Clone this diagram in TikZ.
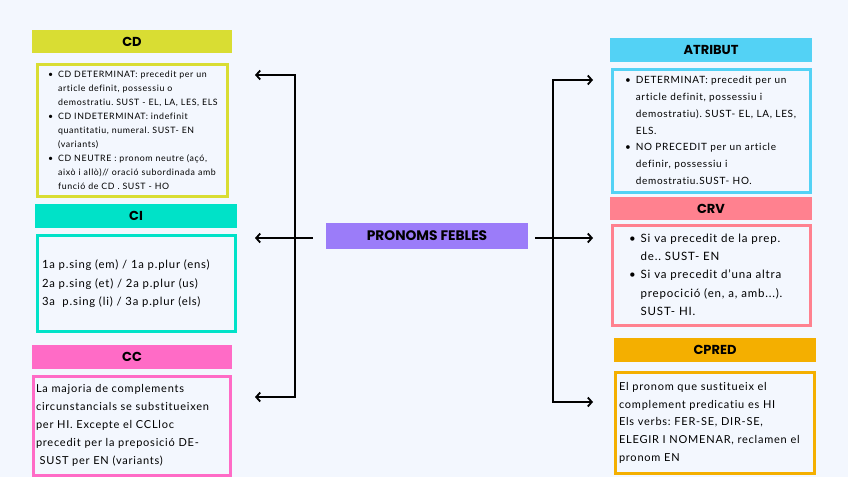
\documentclass[tikz,border=0pt]{standalone}
\usepackage{fontspec}
\setmainfont{Lato}[LetterSpace=7, Ligatures=NoCommon]
\newfontfamily\headfont{Poppins}
\usetikzlibrary{arrows.meta,positioning}
\definecolor{pfbg}{RGB}{243,247,254}
\definecolor{pfyellow}{RGB}{217,221,51}
\definecolor{pfturq}{RGB}{0,226,200}
\definecolor{pfpink}{RGB}{255,107,198}
\definecolor{pfcyan}{RGB}{83,210,245}
\definecolor{pfsalmon}{RGB}{255,129,143}
\definecolor{pforange}{RGB}{244,175,0}
\definecolor{pfpurple}{RGB}{155,124,249}
\frenchspacing

\begin{document}
\begin{tikzpicture}[
  x=1pt, y=-1pt,
  hdr/.style={minimum width=201pt, minimum height=23.5pt, inner sep=0pt,
              font=\headfont\bfseries\fontsize{13}{14}\selectfont},
  body/.style={draw=#1, line width=3pt, fill=pfbg, align=left, inner ysep=0pt},
  arr/.style={-{Straight Barb[length=4pt,width=9pt]}, line width=1.8pt, black},
  brk/.style={{Straight Barb[length=4pt,width=9pt]}-{Straight Barb[length=4pt,width=9pt]},
              line width=1.8pt, black}
]
\fill[pfbg] (0,0) rectangle (848,477);
% ---- centre ----
\node[fill=pfpurple, minimum width=202pt, minimum height=26pt, inner sep=0pt,
      font=\headfont\bfseries\fontsize{13.8}{16}\selectfont] (pf) at (427,236) {PRONOMS FEBLES};
% ---- left column: CD, CI, CC ----
\node[hdr, fill=pfyellow, minimum width=200pt] (cd) at (132,41.5) {CD};
\node[body=pfyellow, below=9.5pt of cd, xshift=0.5pt, text width=169pt, inner xsep=10.5pt,
      minimum height=132pt, font=\fontsize{8.8}{14}\selectfont] (cdtxt)
  {\begin{tabular}{@{}l@{\hspace{5pt}}l@{}}
   \textbullet & CD DETERMINAT: precedit per un\\
               & article definit, possessiu o\\
               & demostratiu. SUST - EL, LA, LES, ELS\\
   \textbullet & CD INDETERMINAT: indefinit\\
               & quantitatiu, numeral. SUST- EN\\
               & (variants)\\
   \textbullet & CD NEUTRE : pronom neutre (açó,\\
               & això i allò)// oració subordinada amb\\
               & funció de CD . SUST - HO
   \end{tabular}};
\node[hdr, fill=pfturq, minimum width=202pt] (ci) at (136,216) {CI};
\node[body=pfturq, below=6.5pt of ci, xshift=0.5pt, text width=189pt, inner xsep=4.5pt,
      minimum height=96pt, font=\fontsize{11.3}{18.5}\selectfont] (citxt)
  {1a p.sing (em) / 1a p.plur (ens)\\
   2a p.sing (et) / 2a p.plur (us)\\
   3a\ \ p.sing (li) / 3a p.plur (els)};
\node[hdr, fill=pfpink, minimum width=200pt, minimum height=24pt] (cc) at (132,357) {CC};
\node[body=pfpink, below=5.5pt of cc, text width=192pt, inner xsep=2.5pt,
      minimum height=99pt, font=\fontsize{11}{18}\selectfont] (cctxt)
  {La majoria de complements\\
   circunstancials se substitueixen\\
   per HI. Excepte el CCLloc\\
   precedit per la preposició DE-\\
   \ SUST per EN (variants)};
% ---- right column: ATRIBUT, CRV, CPRED ----
\node[hdr, fill=pfcyan, minimum width=202pt, minimum height=24pt] (atr) at (711,50) {ATRIBUT};
\node[body=pfcyan, below=5.5pt of atr, xshift=0.5pt, text width=173pt, inner xsep=12.5pt,
      minimum height=123pt, font=\fontsize{10}{16.7}\selectfont] (atrtxt)
  {\begin{tabular}{@{}l@{\hspace{5pt}}l@{}}
   \textbullet & DETERMINAT: precedit per un\\
               & article definit, possessiu i\\
               & demostratiu). SUST- EL, LA, LES,\\
               & ELS.\\
   \textbullet & NO PRECEDIT per un article\\
               & definir, possessiu i\\
               & demostratiu.SUST- HO.
   \end{tabular}};
\node[hdr, fill=pfsalmon, minimum width=202pt, minimum height=23pt] (crv) at (711,208.5) {CRV};
\node[body=pfsalmon, below=3.5pt of crv, xshift=0.5pt, text width=165pt, inner xsep=16.5pt,
      minimum height=100pt, font=\fontsize{11.5}{18.2}\selectfont] (crvtxt)
  {\begin{tabular}{@{}l@{\hspace{5pt}}l@{}}
   \textbullet & Si va precedit de la prep.\\
               & de.. SUST- EN\\
   \textbullet & Si va precedit d'una altra\\
               & prepocició (en, a, amb...).\\
               & SUST- HI.
   \end{tabular}};
\node[hdr, fill=pforange, minimum width=202pt, minimum height=24pt] (cpred) at (715,350) {CPRED};
\node[body=pforange, below=8.5pt of cpred, text width=192pt, inner xsep=3.5pt,
      minimum height=101pt, font=\fontsize{11}{17.8}\selectfont] (cpredtxt)
  {El pronom que sustitueix el\\
   complement predicatiu es HI\\
   Els verbs: FER-SE, DIR-SE,\\
   ELEGIR I NOMENAR, reclamen el\\
   pronom EN};
% ---- connectors ----
\coordinate (lbar) at (295,238);
\coordinate (cdin) at (255,75);
\coordinate (ciin) at (255,238);
\coordinate (ccin) at (255,397);
\coordinate (rbar) at (553,238);
\coordinate (atrin) at (593,80);
\coordinate (crvin) at (593,238);
\coordinate (cpredin) at (593,402);
\draw[brk] (cdin) -| (lbar) |- (ccin);
\draw[arr] ([xshift=-13pt]pf.west |- lbar) -- (ciin);
\draw[brk] (atrin) -| (rbar) |- (cpredin);
\draw[arr] ([xshift=7pt]pf.east |- rbar) -- (crvin);
\end{tikzpicture}
\end{document}
